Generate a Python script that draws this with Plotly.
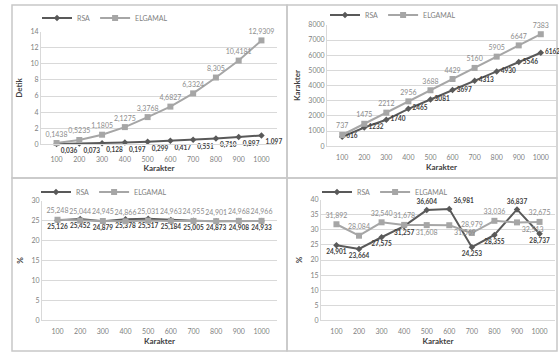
import plotly.graph_objects as go

W, H = 559, 352

karakter = ["100", "200", "300", "400", "500", "600", "700", "800", "900", "1000"]

# Panel 1: waktu (Detik)
rsa_detik = [0.036, 0.073, 0.128, 0.197, 0.299, 0.417, 0.551, 0.710, 0.897, 1.097]
elg_detik = [0.1438, 0.5235, 1.1805, 2.1275, 3.3768, 4.6827, 6.3324, 8.305, 10.4181, 12.9309]

# Panel 2: ukuran (Karakter)
rsa_size = [616, 1232, 1740, 2465, 3081, 3697, 4313, 4930, 5546, 6162]
elg_size = [737, 1475, 2212, 2956, 3688, 4429, 5160, 5905, 6647, 7383]

# Panel 3: %
rsa_pct1 = [25.126, 25.452, 24.879, 25.378, 25.517, 25.184, 25.005, 24.873, 24.908, 24.933]
elg_pct1 = [25.248, 25.044, 24.945, 24.866, 25.031, 24.963, 24.955, 24.901, 24.968, 24.966]

# Panel 4: %
rsa_pct2 = [24.901, 23.664, 27.575, 31.257, 36.604, 36.981, 24.253, 28.355, 36.837, 28.737]
elg_pct2 = [31.892, 28.084, 32.540, 31.678, 31.608, 31.569, 28.979, 33.036, 32.513, 32.675]

RSA_C = "#595959"
ELG_C = "#a6a6a6"
FONT = "Lato"

def px(x0, x1):
    return [x0 / W, x1 / W]

def py(ytop, ybot):
    return [1 - ybot / H, 1 - ytop / H]

panels = [
    dict(x=px(41, 277), y=py(30, 143), yr=[0, 14], dt=2, yt="Detik",
         rsa=rsa_detik, elg=elg_detik, rf="%{y:.3f}", ef="%{y:.4~f}",
         rp="bottom right", ep="top center", leg=(37, 16), tso=2, xts=8),
    dict(x=px(327, 556), y=py(23, 145), yr=[0, 8000], dt=1000, yt="Karakter",
         rsa=rsa_size, elg=elg_size, rf="%{y:d}", ef="%{y:d}",
         rp="middle right", ep="top center", leg=(325, 13), tso=4, xts=4),
    dict(x=px(42, 277), y=py(200, 320), yr=[0, 30], dt=5, yt="%",
         rsa=rsa_pct1, elg=elg_pct1, rf="%{y:.3f}", ef="%{y:.3f}",
         rp="bottom center", ep="top center", leg=(36, 191), tso=4, xts=4),
    dict(x=px(321, 555), y=py(199, 320), yr=[0, 40], dt=5, yt="%",
         rsa=rsa_pct2, elg=elg_pct2, rf="%{y:.3f}", ef="%{y:.3f}",
         rp=["bottom center", "bottom center", "bottom center", "bottom center", "top center",
             "top right", "bottom center", "bottom center", "top center", "bottom center"],
         ep=["top center", "top center", "top center", "top center", "bottom center",
             "bottom right", "top center", "top center", "bottom right", "top center"],
         leg=(317, 191), tso=4, xts=4),
]

fig = go.Figure()
layout = dict(
    width=W, height=H, margin=dict(l=0, r=0, t=0, b=0),
    paper_bgcolor="white", plot_bgcolor="white",
    separators=", ", font=dict(family=FONT, size=7, color="#595959"),
)

for i, p in enumerate(panels):
    n = "" if i == 0 else str(i + 1)
    xa, ya = "x" + n, "y" + n
    lg = "legend" + n
    fig.add_trace(go.Scatter(
        x=karakter, y=p["rsa"], name="RSA", mode="lines+markers+text",
        line=dict(color=RSA_C, width=2), marker=dict(symbol="diamond", size=5, color=RSA_C),
        texttemplate=p["rf"], textposition=p["rp"], cliponaxis=False,
        textfont=dict(family=FONT, size=6.5, color="#404040", weight="bold"),
        xaxis=xa, yaxis=ya, legend=lg))
    fig.add_trace(go.Scatter(
        x=karakter, y=p["elg"], name="ELGAMAL", mode="lines+markers+text",
        line=dict(color=ELG_C, width=2), marker=dict(symbol="square", size=6, color=ELG_C),
        texttemplate=p["ef"], textposition=p["ep"], cliponaxis=False,
        textfont=dict(family=FONT, size=7, color="#8c8c8c"),
        xaxis=xa, yaxis=ya, legend=lg))
    layout["xaxis" + n] = dict(
        domain=p["x"], anchor=ya, type="category", showgrid=False,
        showline=True, linecolor="#d9d9d9", linewidth=1,
        ticks="outside", ticklen=p["xts"], tickcolor="rgba(0,0,0,0)",
        tickfont=dict(size=7, color="#7f7f7f"), automargin=False,
        title=dict(text="<b>Karakter</b>", font=dict(size=8, color="#404040"), standoff=p["tso"]),
        fixedrange=True)
    layout["yaxis" + n] = dict(
        domain=p["y"], anchor=xa, range=p["yr"], dtick=p["dt"], showgrid=True,
        gridcolor="#d9d9d9", gridwidth=1, zeroline=False,
        showline=True, linecolor="#d9d9d9", linewidth=1, ticks="",
        tickfont=dict(size=7, color="#7f7f7f"), automargin=False,
        title=dict(text="<b>" + p["yt"] + "</b>", font=dict(size=8, color="#404040"), standoff=6),
        fixedrange=True)
    lx, lyc = p["leg"]
    layout[lg] = dict(
        x=lx / W, y=1 - lyc / H, xanchor="left", yanchor="middle",
        orientation="h", bgcolor="rgba(0,0,0,0)", itemwidth=30,
        font=dict(size=7, color="#7f7f7f"), tracegroupgap=0)

shapes = []
for (x0, x1, y0, y1) in [(12, 287, 3, 177), (287, 557, 3, 177), (12, 287, 177, 351), (287, 557, 177, 351)]:
    shapes.append(dict(type="rect", xref="paper", yref="paper",
                       x0=x0 / W, x1=x1 / W, y0=1 - y1 / H, y1=1 - y0 / H,
                       line=dict(color="#c8c8c8", width=1.5), layer="below"))
layout["shapes"] = shapes
layout["showlegend"] = True

fig.update_layout(**layout)
fig.write_html("out.html", config={"displayModeBar": False},
               post_script="document.body.style.margin='0';document.body.style.padding='0';")
